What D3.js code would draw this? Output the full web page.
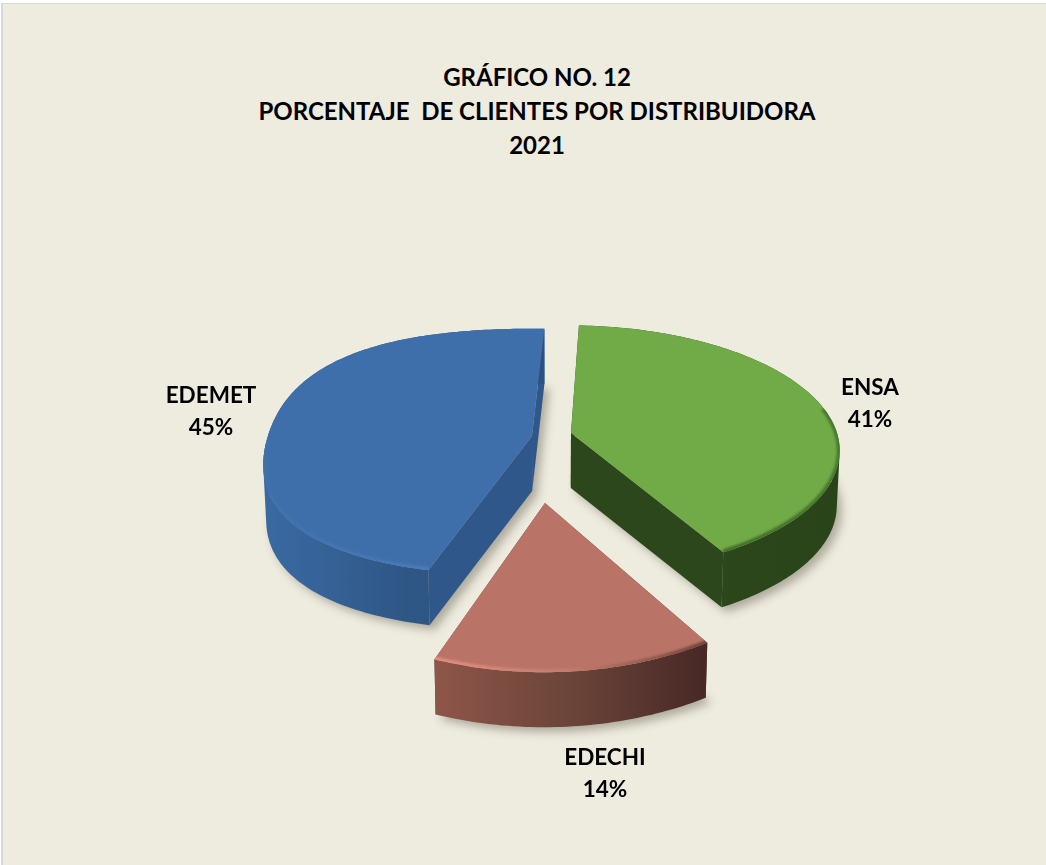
<!DOCTYPE html>
<html>
<head>
<meta charset="utf-8">
<script src="https://cdn.jsdelivr.net/npm/d3@7"></script>
<style>
  html, body { margin: 0; padding: 0; background: #fff; }
  svg { display: block; }
  text { font-family: Lato, "Open Sans", sans-serif; font-weight: 700; fill: #000; text-anchor: middle; }
</style>
</head>
<body>
<div id="chart"></div>
<script>
var titleLines = ["GRÁFICO NO. 12", "PORCENTAJE  DE CLIENTES POR DISTRIBUIDORA", "2021"];
var categories = ["ENSA", "EDECHI", "EDEMET"];
var values = [41, 13.6, 45.4];

var WIDTH = 1046;
var HEIGHT = 865;

// plane -> screen perspective, radius 1 = pie radius
var CX = 551;
var CY = 470;
var SCALE_X = 278;
var SCALE_Y = 132.5;
var PERSPECTIVE = 0.138;
var DEPTH = 55;
var FIRST_SLICE_ANGLE = 2.5 * Math.PI / 180;
var STEP = Math.PI / 180;

// where each slice's apex sits on the plane once exploded
var sliceOffsets = [[0.0748, -0.29], [-0.0209, 0.2408], [-0.0709, -0.266]];
// radius and how much the outline swells on the diagonals
var sliceRadius = [0.995, 1.02, 0.985];
var sliceBulge = [0, -0.03, 0.055];
var sliceStyles = [
  { top: "#70AB47", cut: "#2C471B", rim: ["#2C471B", "#2C471B", "#2A4419"],
    bevel: ["#3F6A28", "#3A5F24", "#41702A"], bevelFrom: 78, bevelOpacity: 0.85 },
  { top: "#B97467", cut: "#6B4439", rim: ["#8E5649", "#6B4439", "#472826"],
    bevel: ["#E58F80", "#C47C6C", "#70423A"], bevelFrom: 0, bevelOpacity: 1 },
  { top: "#3F6FAA", cut: "#30578A", rim: ["#3A6AA3", "#2F5786", "#2C5180"],
    bevel: ["#3F71AC", "#4679B8", "#4F8ACF"], bevelFrom: 0, bevelOpacity: 1 }
];
var labelPositions = [[870, 395], [605, 765], [211, 403]];

function project(u, v) {
  var w = 1 - PERSPECTIVE * v;
  return [CX + SCALE_X * u / w, CY + SCALE_Y * v / w];
}

function projectBottom(u, v) {
  var p = project(u, v);
  return [CX + (p[0] - CX) * 0.99, p[1] + DEPTH];
}

// angle is clockwise from the back of the pie
function rimPoints(i, a0, a1, fn) {
  var offset = sliceOffsets[i];
  return d3.range(a0, a1, STEP).concat([a1]).map(function(a) {
    var swell = Math.sin(2 * a);
    var r = sliceRadius[i] + sliceBulge[i] * swell * swell;
    return fn(offset[0] + r * Math.sin(a), offset[1] - r * Math.cos(a));
  });
}

var line = d3.line();

var svg = d3.select("#chart").append("svg")
  .attr("width", WIDTH)
  .attr("height", HEIGHT);

var defs = svg.append("defs");
defs.append("filter").attr("id", "shadow")
  .attr("x", "-20%").attr("y", "-20%").attr("width", "140%").attr("height", "140%")
  .append("feGaussianBlur").attr("stdDeviation", 4);
defs.append("filter").attr("id", "bevel")
  .attr("x", "-10%").attr("y", "-10%").attr("width", "120%").attr("height", "120%")
  .append("feGaussianBlur").attr("stdDeviation", 1.3);

// panel with its thin grey edge
svg.append("rect")
  .attr("x", 1).attr("y", 3)
  .attr("width", WIDTH).attr("height", HEIGHT)
  .attr("fill", "#D9D9D9");
svg.append("rect")
  .attr("x", 3).attr("y", 4)
  .attr("width", WIDTH).attr("height", HEIGHT)
  .attr("fill", "#EEEBDF");

svg.append("g").selectAll("text")
  .data(titleLines)
  .enter()
  .append("text")
  .attr("x", 537)
  .attr("y", function(d, i) { return 86 + i * 34; })
  .attr("font-size", 24)
  .style("white-space", "pre")
  .text(function(d) { return d; });

var slices = d3.pie()
  .sort(null)
  .startAngle(FIRST_SLICE_ANGLE)
  .endAngle(FIRST_SLICE_ANGLE + 2 * Math.PI)(values);

function gradient(id, x0, x1, stops) {
  var g = defs.append("linearGradient").attr("id", id)
    .attr("gradientUnits", "userSpaceOnUse")
    .attr("x1", x0).attr("x2", x1)
    .attr("y1", 0).attr("y2", 0);
  stops.forEach(function(c, i) {
    g.append("stop").attr("offset", i / (stops.length - 1)).attr("stop-color", c);
  });
}

// all rim quads in one path, wound the same way so they merge without seams
function rimPath(pts, bottom) {
  return d3.range(pts.length - 1).map(function(k) {
    var quad = [pts[k], pts[k + 1], bottom[k + 1], bottom[k]];
    if (d3.polygonArea(quad) < 0) {
      quad.reverse();
    }
    return line(quad) + "Z";
  }).join("");
}

var shadows = svg.append("g").attr("filter", "url(#shadow)");

slices.forEach(function(d, i) {
  var off = sliceOffsets[i];
  var pts = rimPoints(i, d.startAngle, d.endAngle, project);
  var bottom = rimPoints(i, d.startAngle, d.endAngle, projectBottom);
  var apex = project(off[0], off[1]);
  var apexBottom = projectBottom(off[0], off[1]);
  var xs = pts.map(function(p) { return p[0]; });
  var x0 = d3.min(xs);
  var x1 = d3.max(xs);
  var style = sliceStyles[i];

  shadows.append("path")
    .attr("d", line([apexBottom].concat(bottom)) + "Z")
    .attr("transform", "translate(5,5)")
    .attr("fill", "#5A5646")
    .attr("fill-opacity", 0.42);

  gradient("rim" + i, x0, x1, style.rim);
  gradient("bevel" + i, x0, x1, style.bevel);

  var g = svg.append("g");

  // the two cut faces
  [pts[0], pts[pts.length - 1]].forEach(function(p, k) {
    var b = k === 0 ? bottom[0] : bottom[bottom.length - 1];
    g.append("path")
      .attr("d", line([apex, p, b, apexBottom]) + "Z")
      .attr("fill", style.cut);
  });

  g.append("path")
    .attr("d", rimPath(pts, bottom))
    .attr("fill", "url(#rim" + i + ")");

  var clipId = "top" + i;
  var topPath = line([apex].concat(pts)) + "Z";
  defs.append("clipPath").attr("id", clipId)
    .append("path").attr("d", topPath);
  g.append("path")
    .attr("d", topPath)
    .attr("fill", style.top);

  // soft bevel along the front of the rim, kept inside the top face
  var from = style.bevelFrom ? style.bevelFrom * Math.PI / 180 : d.startAngle;
  var to = i === 2 ? 268 * Math.PI / 180 : d.endAngle;
  var frontAngles = i === 0 ? [from, d.endAngle] : [d.startAngle, to];
  g.append("g")
    .attr("clip-path", "url(#" + clipId + ")")
    .append("path")
    .attr("d", line(rimPoints(i, frontAngles[0], frontAngles[1], project)))
    .attr("fill", "none")
    .attr("stroke", "url(#bevel" + i + ")")
    .attr("stroke-width", 6)
    .attr("stroke-opacity", style.bevelOpacity)
    .attr("filter", "url(#bevel)");
});

var labels = svg.append("g").selectAll("g")
  .data(slices)
  .enter()
  .append("g");
labels.append("text")
  .attr("x", function(d, i) { return labelPositions[i][0]; })
  .attr("y", function(d, i) { return labelPositions[i][1]; })
  .attr("font-size", 22.5)
  .text(function(d, i) { return categories[i]; });
labels.append("text")
  .attr("x", function(d, i) { return labelPositions[i][0]; })
  .attr("y", function(d, i) { return labelPositions[i][1] + 32; })
  .attr("font-size", 22.5)
  .text(function(d) { return Math.round(d.value) + "%"; });
</script>
</body>
</html>
